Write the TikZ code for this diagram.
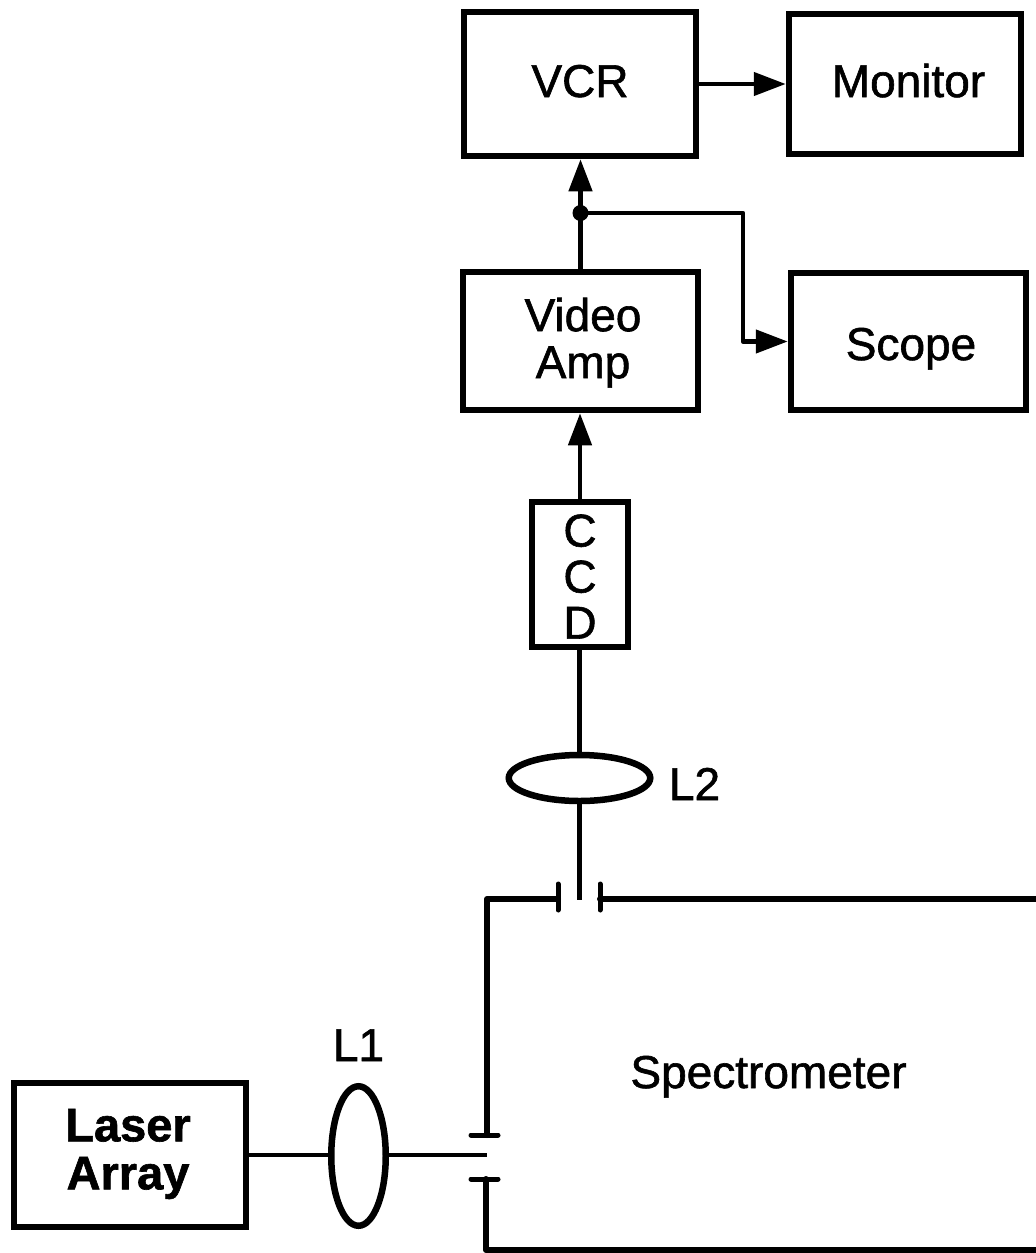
\documentclass[tikz,border=0pt]{standalone}
\usepackage{fontspec}
\setmainfont[FakeBold=1.3]{Liberation Sans}
\usetikzlibrary{arrows.meta,shapes.geometric}
\newcommand{\lbl}{\fontsize{46}{47}\selectfont}
\tikzset{
  box/.style={draw=black,line width=6.5pt,fill=white,inner sep=0pt},
  thin line/.style={draw=black,line width=4.5pt},
  thick wall/.style={draw=black,line width=6pt,line cap=round,line join=round},
  tick/.style={draw=black,line width=5pt,line cap=round},
  lens/.style={draw=black,line width=6.5pt,ellipse,fill=white,inner sep=0pt},
  head/.style={-{Triangle[length=32pt,width=23pt]}},
  label/.style={inner sep=0pt,font=\lbl,align=center}
}
\begin{document}
\begin{tikzpicture}[x=1pt,y=-1pt]
\useasboundingbox (0,0) rectangle (1036,1253);
\node[box,minimum width=232pt,minimum height=144pt] (vcr) at (580,84) {};
\node[box,minimum width=232pt,minimum height=140pt] (mon) at (905,84) {};
\node[box,minimum width=235pt,minimum height=138pt] (amp) at (580.5,341) {};
\node[box,minimum width=235pt,minimum height=137pt] (scope) at (908.5,341.5) {};
\node[box,minimum width=96pt,minimum height=145pt] (ccd) at (580,574.5) {};
\node[box,minimum width=232pt,minimum height=144pt] (laser) at (130,1155) {};
\node[lens,minimum width=141.5pt,minimum height=46pt] (l2) at (579.5,778) {};
\node[lens,minimum width=54.5pt,minimum height=139.5pt] (l1) at (358.5,1156) {};
\node[label,anchor=base] (vcrt) at (580,97) {VCR};
\node[label,anchor=base] (mont) at (908.5,97) {Monitor};
\node[label] (ampt) at (583,342.7) {Video\\Amp};
\node[label,anchor=base] (scopet) at (911,360) {Scope};
\node[label,font=\fontsize{46}{46}\selectfont] (ccdt) at (580,576.5) {C\\C\\D};
\node[label,font=\bfseries\fontsize{47}{48}\selectfont] (lasert) at (128,1154) {Laser\\Array};
\node[label,anchor=base] (l2t) at (694.5,800) {L2};
\node[label,anchor=base] (l1t) at (358.5,1061) {L1};
\node[label,anchor=base] (spec) at (768.5,1088) {Spectrometer};
\coordinate (dot) at (580.5,213);
\fill (dot) circle (8pt);
\coordinate (bend1) at (743,213);
\coordinate (bend2) at (bend1 |- scope.west);
\coordinate (slit2) at (579.5,900);
\coordinate (slit1) at (487,1155);
% connectors
\draw[thin line] (dot |- amp.north) -- (dot);
\draw[thin line,head] (dot) -- (dot |- vcr.south);
\draw[thin line,head] (vcr.east |- mon.west) -- (mon.west);
\draw[thin line,head,line join=round] (dot) -- (bend1) -- (bend2) -- (scope.west);
\draw[thin line,head] (ccd.north) -- (ccd.north |- amp.south);
\draw[thin line] (l2.north |- ccd.south) -- (l2.north);
\draw[thin line] (l2.south) -- (slit2);
\draw[thin line] (laser.east) -- (l1.west |- laser.east);
\draw[thin line] (l1.east |- slit1) -- (slit1);
% spectrometer walls
\draw[thick wall] (558,899) -- (487,899) -- (487,1135);
\draw[thick wall] (600,899) -- (1036,899);
\draw[thick wall] (486,1179) -- (486,1250) -- (1036,1250);
\draw[tick] (558,884) -- (558,910);
\draw[tick] (600,884) -- (600,910);
\draw[tick] (471,1135) -- (498,1135);
\draw[tick] (471,1179) -- (498,1179);
\end{tikzpicture}
\end{document}
